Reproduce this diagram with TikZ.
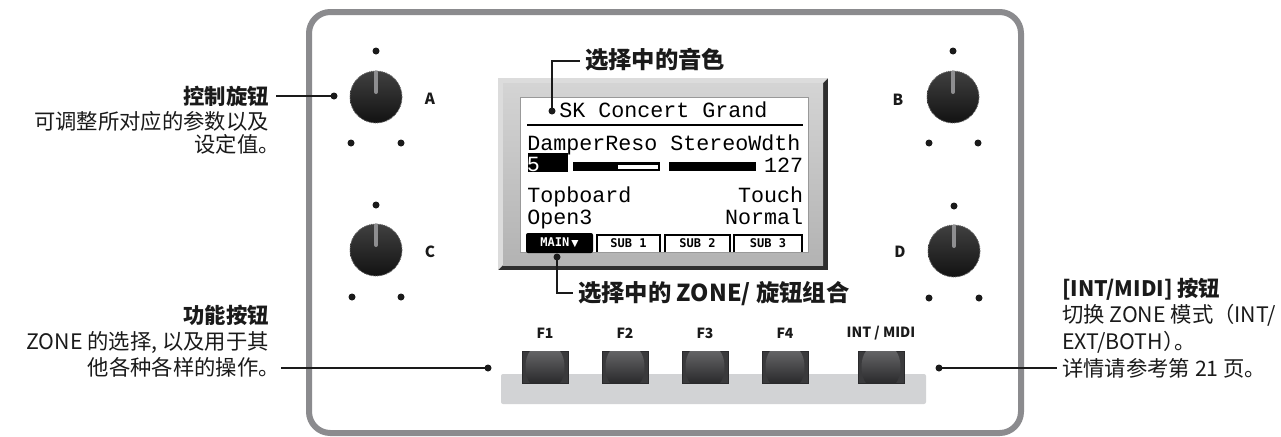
\documentclass[tikz,border=0pt]{standalone}
\usepackage{fontspec}
\setmainfont{Noto Sans CJK SC}
\newfontfamily\lcdfont{Liberation Mono}
\newfontfamily\tabfont{DejaVu Sans Mono}
\newfontfamily\symfont{DejaVu Sans}
\definecolor{cPanel}{HTML}{8B8B8E}
\definecolor{cStrip}{HTML}{D2D3D5}
\definecolor{cKnobTop}{HTML}{404040}
\definecolor{cKnobBot}{HTML}{121212}
\definecolor{cKnobRing}{HTML}{5C5C5C}
\definecolor{cKnobInd}{HTML}{8E8E90}
\definecolor{cDot}{HTML}{1A1A1A}
\definecolor{cInk}{HTML}{1A1A1A}
\definecolor{cBezFace}{HTML}{C2C2C2}
\definecolor{cBezLight}{HTML}{DCDCDC}
\definecolor{cBezDark}{HTML}{2E2E2E}
\definecolor{cBtnSide}{HTML}{3A3A3C}
\definecolor{cBtnHi}{HTML}{646466}
\definecolor{cBtnLo}{HTML}{2A2A2C}

\newcommand\panelbutton[2]{%
  \node[btnbase] (#1) at (#2,367) {};
  \shade[top color=cBtnHi, bottom color=cBtnLo]
    ([xshift=6pt]#1.north west) .. controls ([xshift=1.5pt,yshift=-6pt]#1.north west) and ([xshift=1.5pt,yshift=6pt]#1.south west) .. ([xshift=6pt]#1.south west)
    -- ([xshift=-6pt]#1.south east) .. controls ([xshift=-1.5pt,yshift=6pt]#1.south east) and ([xshift=-1.5pt,yshift=-6pt]#1.north east) .. ([xshift=-6pt]#1.north east) -- cycle;
}
\newcommand\panelknob[3]{%
  \node[knobnode] (#1) at (#2,#3) {};
  \draw[knobline] ([yshift=-1pt]#1.north) -- ([yshift=3.75pt]#1.center);
}

\begin{document}
\begin{tikzpicture}[x=0.75pt,y=-0.75pt,
  conn/.style={draw=cInk, line width=0.9pt},
  dotmark/.style={circle, fill=cDot, inner sep=0pt, outer sep=0pt, minimum size=5.25pt},
  knobnode/.style={circle, inner sep=0pt, outer sep=0pt, minimum size=39pt, top color=cKnobTop, bottom color=cKnobBot, draw=cKnobRing, line width=0.7pt, dash pattern=on 0.7pt off 0.7pt},
  knobline/.style={draw=cKnobInd, line width=3pt, line cap=round},
  btnbase/.style={rectangle, inner sep=0pt, outer sep=0pt, minimum width=34.5pt, minimum height=24pt, fill=cBtnSide, draw=cBtnLo, line width=0.4pt},
  lcdtxt/.style={font=\lcdfont\fontsize{16.25}{18}\selectfont, inner sep=0pt, anchor=base west, text=black},
  tabtxt/.style={font=\tabfont\bfseries\fontsize{9}{10}\selectfont, inner sep=0pt},
  sidelbl/.style={font=\fontsize{16}{19}\selectfont, inner sep=0pt, text=cInk},
  sidebold/.style={font=\bfseries\fontsize{16}{19}\selectfont, inner sep=0pt, text=cInk},
  bigcall/.style={font=\bfseries\fontsize{17.5}{20}\selectfont, inner sep=0pt, text=cInk, anchor=base west},
  knoblbl/.style={font=\bfseries\fontsize{11.5}{13}\selectfont, inner sep=0pt, text=cInk},
  btnlbl/.style={font=\bfseries\fontsize{10.5}{12}\selectfont, inner sep=0pt, text=cInk}
]
\useasboundingbox (0,0) rectangle (1281,436);
\fill[white] (0,0) rectangle (1281,436);

% panel outline
\draw[draw=cPanel, line width=4.5pt, rounded corners=16pt] (309,12) rectangle (1021,433);

% LCD bezel
\fill[cBezDark] (498,78) rectangle (828,270);
\fill[cBezLight] (498,78) -- (828,78) -- (823,83) -- (503,83) -- (503,265) -- (498,270) -- cycle;
\shade[top color=cBezLight!70!cBezFace, bottom color=cBezFace!92!black] (503,83) rectangle (823,265);
\filldraw[fill=white, draw=gray!80, line width=0.75pt] (520,97) rectangle (808,252);

% LCD content
\node[lcdtxt] (title) at (559,117) {SK Concert Grand};
\draw[line width=1.5pt] (527,125) -- (803,125);
\node[lcdtxt] (par1) at (527,150) {DamperReso StereoWdth};
\fill[black] (528,153) rectangle (568,172);
\node[lcdtxt, text=white] (val1) at (526.5,171) {5};
\fill[black] (573,162) rectangle (660,171);
\fill[white] (618,164.5) rectangle (658,168.5);
\fill[black] (669,162) rectangle (756,171);
\node[lcdtxt, anchor=base east] (val2) at (803.5,172) {127};
\node[lcdtxt] (par3) at (527,202) {Topboard};
\node[lcdtxt, anchor=base east] (par4) at (803.5,202) {Touch};
\node[lcdtxt] (val3) at (527,224) {Open3};
\node[lcdtxt, anchor=base east] (val4) at (803.5,224) {Normal};

% tabs
\fill[black, rounded corners=1.5pt] (526,253) -- (526,233) -- (593,233) -- (593,253) -- cycle;
\node[tabtxt, text=white] (tmain) at (559.5,243) {MAIN\,{\symfont\fontsize{7}{7}\selectfont ▼}};
\draw[line width=1.1pt] (597,252) -- (597,235) -- (660,235) -- (660,252);
\node[tabtxt] (tsub1) at (628.5,243.5) {SUB 1};
\draw[line width=1.1pt] (665,252) -- (665,235) -- (730,235) -- (730,252);
\node[tabtxt] (tsub2) at (697.5,243.5) {SUB 2};
\draw[line width=1.1pt] (734,252) -- (734,235) -- (802,235) -- (802,252);
\node[tabtxt] (tsub3) at (768,243.5) {SUB 3};

% knobs
\panelknob{kA}{376}{97}
\panelknob{kB}{953}{97}
\panelknob{kC}{376}{250}
\panelknob{kD}{954}{251}

\node[dotmark] (a1) at (376,51) {};
\node[dotmark] (a2) at (351,143) {};
\node[dotmark] (a3) at (401,143) {};
\node[dotmark] (b1) at (953,51) {};
\node[dotmark] (b2) at (929,143) {};
\node[dotmark] (b3) at (978,143) {};
\node[dotmark] (c1) at (376,205) {};
\node[dotmark] (c2) at (352,297) {};
\node[dotmark] (c3) at (401,297) {};
\node[dotmark] (d1) at (954,206) {};
\node[dotmark] (d2) at (929,298) {};
\node[dotmark] (d3) at (979,298) {};

\node[knoblbl] (lA) at (430,99) {A};
\node[knoblbl] (lB) at (898,100) {B};
\node[knoblbl] (lC) at (430,252) {C};
\node[knoblbl] (lD) at (900,252) {D};

% button strip and buttons
\fill[cStrip, rounded corners=1.5pt] (501,374) rectangle (926,404);
\panelbutton{bF1}{545}
\panelbutton{bF2}{625}
\panelbutton{bF3}{705}
\panelbutton{bF4}{785}
\panelbutton{bIM}{881}
\node[btnlbl] (tF1) at (545,333) {F1};
\node[btnlbl] (tF2) at (625,333) {F2};
\node[btnlbl] (tF3) at (705,333) {F3};
\node[btnlbl] (tF4) at (785,333) {F4};
\node[btnlbl] (tIM) at (881,333) {INT / MIDI};

% callout: selected sound
\node[dotmark] (dT) at (552,111) {};
\coordinate (eT) at (580,61);
\draw[conn] (dT.center) |- (eT);
\node[bigcall] (tT) at (585,68.6) {选择中的音色};

% callout: selected zone
\node[dotmark] (dB) at (557,257) {};
\coordinate (eB) at (573,293);
\draw[conn] (dB.center) |- (eB);
\node[bigcall] (tB) at (578,301.6) {选择中的 ZONE/ 旋钮组合};

% callout: knobs
\node[dotmark] (dA) at (334,96) {};
\coordinate (eA) at (276,96);
\draw[conn] (dA.center) -- (eA);
\node[sidebold, anchor=base east] (k1) at (269,104) {控制旋钮};
\node[sidelbl, anchor=base east] (k2) at (269,129) {可调整所对应的参数以及};
\node[sidelbl, anchor=base east] (k3) at (280,152) {设定值。};

% callout: function buttons
\node[dotmark] (dF) at (488,368) {};
\coordinate (eF) at (281,368);
\draw[conn] (dF.center) -- (eF);
\node[sidebold, anchor=base east] (f1) at (269,323) {功能按钮};
\node[sidelbl, anchor=base east] (f2) at (269,349) {ZONE 的选择, 以及用于其};
\node[sidelbl, anchor=base east] (f3) at (280,375) {他各种各样的操作。};

% callout: INT/MIDI
\node[dotmark] (dI) at (939,368) {};
\coordinate (eI) at (1057,368);
\draw[conn] (dI.center) -- (eI);
\node[sidebold, anchor=base west] (i1) at (1062,296) {[INT/MIDI] 按钮};
\node[sidelbl, anchor=base west] (i2) at (1062,322) {切换 ZONE 模式（INT/};
\node[sidelbl, anchor=base west] (i3) at (1062,349) {EXT/BOTH）\kern-0.45em 。};
\node[sidelbl, anchor=base west] (i4) at (1062,376) {详情请参考第 21 页。};
\end{tikzpicture}
\end{document}
